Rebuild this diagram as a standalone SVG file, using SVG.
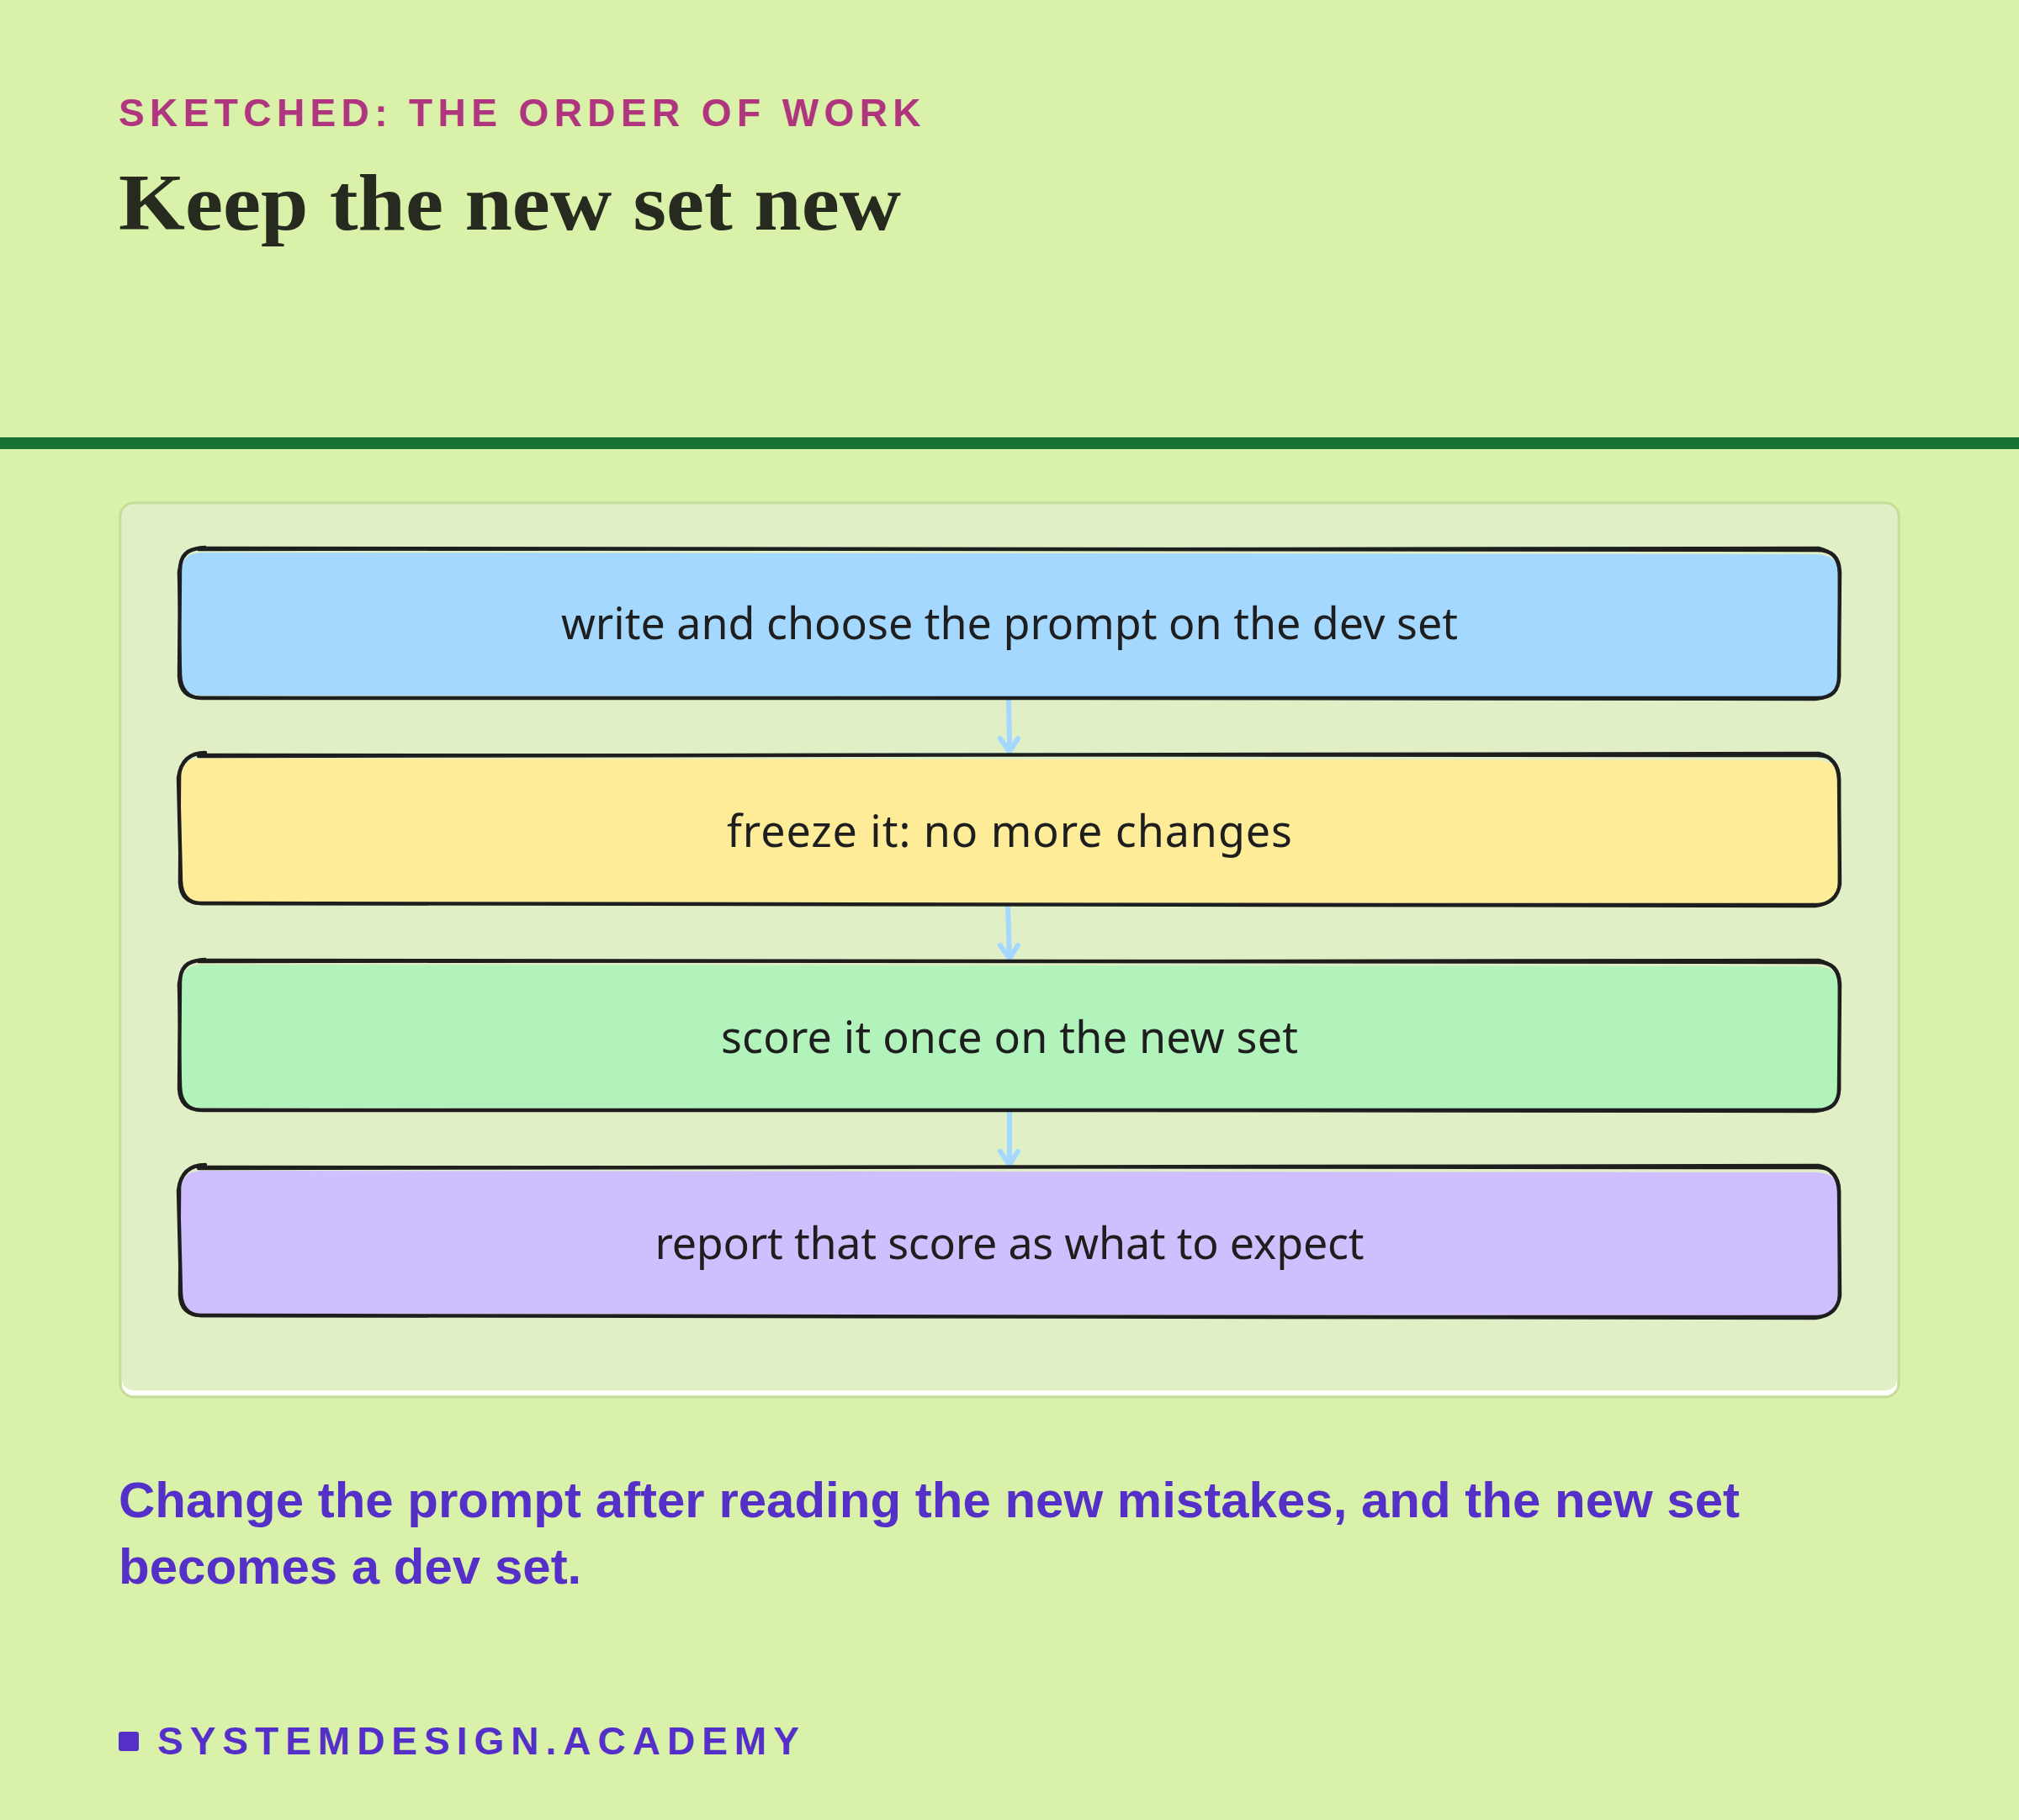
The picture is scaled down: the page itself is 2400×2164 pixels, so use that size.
<svg xmlns="http://www.w3.org/2000/svg" width="2400" height="2164" viewBox="0 0 2400 2164">
<style>
.bg{fill:#d9f1a8}
.kicker{font-family:"Liberation Sans",Arial,sans-serif;font-weight:700;font-size:46px;letter-spacing:6.4px;fill:#b0357f}
.title{font-family:"Liberation Serif","Times New Roman",serif;font-weight:700;font-size:96px;fill:#262a1f}
.cap{font-family:"Liberation Sans",Arial,sans-serif;font-weight:700;font-size:60px;fill:#5530c8}
.foot{font-family:"Liberation Sans",Arial,sans-serif;font-weight:700;font-size:46px;letter-spacing:8px;fill:#5530c8}
.sk{fill:none;stroke:#1e1e1e;stroke-width:4.4;stroke-linecap:round;stroke-linejoin:round}
.sk2{fill:none;stroke:#1e1e1e;stroke-width:2.6;stroke-linecap:round;stroke-linejoin:round}
.lbl{font-family:"Noto Sans","DejaVu Sans",sans-serif;font-size:52px;fill:#1e1e1e;text-anchor:middle}
.arr{fill:none;stroke:#a5d8ff;stroke-width:6;stroke-linecap:round;stroke-linejoin:round}
</style>
<defs>
<path id="boxfill" d="M240,657 L2160,659 Q2187,660 2187,686 L2186,802 Q2186,829 2160,829 L240,827 Q214,827 214,800 L215,682 Q215,657 240,657 Z"/>
<path id="strokeA" d="M240,652 L2160,654 Q2186,654 2187,680 L2186,804 Q2186,830 2160,830 L240,830 Q214,830 213,804 L214,678 Q214,652 240,652"/>
<path id="strokeB" d="M236,654 L2162,651 Q2185,656 2186,682 L2187,806 Q2184,829 2158,832 L238,829 Q216,828 215,802 L212,680 Q216,650 244,650"/>
</defs>
<rect class="bg" x="0" y="0" width="2400" height="2164"/>
<g id="header">
<text class="kicker" x="141" y="150">SKETCHED: THE ORDER OF WORK</text>
<text class="title" x="141" y="273" textLength="930" lengthAdjust="spacingAndGlyphs">Keep the new set new</text>
</g>
<rect x="0" y="520" width="2400" height="14" fill="#177235"/>
<g id="panel">
<rect x="143" y="598" width="2114" height="1063" rx="16" fill="#ffffff" stroke="#c6dd9c" stroke-width="3"/>
<rect x="144.5" y="599.5" width="2111" height="1054" rx="15" fill="#e1efc6"/>
<rect x="143" y="598" width="2114" height="1063" rx="16" fill="none" stroke="#c6dd9c" stroke-width="3"/>
</g>
<g id="connectors">
<path class="arr" d="M1199,832 L1200,893 M1189,878 L1200,894 L1210,878"/>
<path class="arr" d="M1198,1076 L1200,1139 M1189,1124 L1200,1140 L1210,1124"/>
<path class="arr" d="M1200,1321 L1200,1384 M1189,1369 L1200,1385 L1210,1369"/>
</g>
<g id="node-write">
<use href="#boxfill" fill="#a5d8ff"/>
<use href="#strokeA" class="sk"/>
<use href="#strokeB" class="sk2"/>
<text class="lbl" x="1200" y="760" textLength="1066" lengthAdjust="spacing">write and choose the prompt on the dev set</text>
</g>
<g id="node-freeze">
<g transform="translate(0,245)">
<use href="#boxfill" fill="#ffec99"/>
<use href="#strokeB" class="sk"/>
<use href="#strokeA" class="sk2"/>
</g>
<text class="lbl" x="1200" y="1007" textLength="672" lengthAdjust="spacing">freeze it: no more changes</text>
</g>
<g id="node-score">
<g transform="translate(0,490)">
<use href="#boxfill" fill="#b2f2bb"/>
<use href="#strokeA" class="sk"/>
<use href="#strokeB" class="sk2"/>
</g>
<text class="lbl" x="1200" y="1252" textLength="686" lengthAdjust="spacing">score it once on the new set</text>
</g>
<g id="node-report">
<g transform="translate(0,735)">
<use href="#boxfill" fill="#d0bfff"/>
<use href="#strokeB" class="sk"/>
<use href="#strokeA" class="sk2"/>
</g>
<text class="lbl" x="1200" y="1497" textLength="843" lengthAdjust="spacing">report that score as what to expect</text>
</g>
<g id="caption">
<text class="cap" x="141" y="1804">Change the prompt after reading the new mistakes, and the new set</text>
<text class="cap" x="141" y="1883">becomes a dev set.</text>
</g>
<g id="footer">
<rect x="141" y="2059" width="24" height="23" rx="3" fill="#5530c8"/>
<text class="foot" x="187" y="2086">SYSTEMDESIGN.ACADEMY</text>
</g>
</svg>
